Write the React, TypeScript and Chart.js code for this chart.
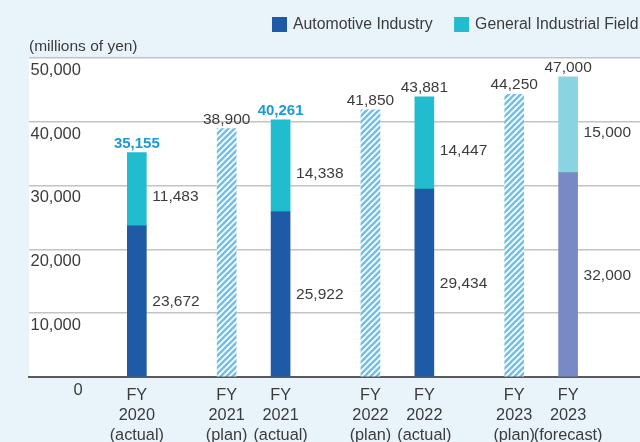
import React, { useEffect, useRef } from 'react';
import { Chart, registerables } from 'chart.js';

Chart.register(...registerables);

// ---------------- data ----------------
const categories: string[][] = [
  ['FY', '2020', '(actual)'],
  ['FY', '2021', '(plan)'],
  ['FY', '2021', '(actual)'],
  ['FY', '2022', '(plan)'],
  ['FY', '2022', '(actual)'],
  ['FY', '2023', '(plan)'],
  ['FY', '2023', '(forecast)'],
];
const kinds = ['actual', 'plan', 'actual', 'plan', 'actual', 'plan', 'forecast'];
const automotive = [23672, null, 25922, null, 29434, null, 32000];
const generalIndustrial = [11483, null, 14338, null, 14447, null, 15000];
const planTotals = [null, 38900, null, 41850, null, 44250, null];
const totals = [35155, 38900, 40261, 41850, 43881, 44250, 47000];
const highlighted = [true, false, true, false, false, false, false];
const legendLabels = ['Automotive Industry', 'General Industrial Field'];
const unitLabel = '(millions of yen)';
const yMax = 50000;
const yStep = 10000;

// ---------------- layout (category slots incl. spacer slots) ----------------
const SLOT_COUNT = 35;
const SLOTS = [6, 11, 14, 19, 22, 27, 30];

const FONT = '"Liberation Sans", Arial, Helvetica, sans-serif';
const C_AUTO = '#1f5aa6';
const C_GEN = '#21bccd';
const C_AUTO_FC = '#7889c5';
const C_GEN_FC = '#8ad3e0';
const C_HATCH = '#6ec1eb';
const C_TEXT = '#3c3c3c';
const C_HIGHLIGHT = '#1b9ad6';
const C_BG = '#e8f3fa';

const slotLabels: (string | string[])[] = Array.from({ length: SLOT_COUNT }, () => '');
SLOTS.forEach((s, i) => { slotLabels[s] = categories[i]; });
const catOfSlot: number[] = Array.from({ length: SLOT_COUNT }, () => -1);
SLOTS.forEach((s, i) => { catOfSlot[s] = i; });

function expand(arr: (number | null)[]) {
  const out: (number | null)[] = Array.from({ length: SLOT_COUNT }, () => null);
  SLOTS.forEach((s, i) => { out[s] = arr[i]; });
  return out;
}

function makeHatch(): CanvasPattern | string {
  const c = document.createElement('canvas');
  c.width = 6; c.height = 6;
  const g = c.getContext('2d');
  if (!g) return C_HATCH;
  g.fillStyle = C_HATCH;
  g.fillRect(0, 0, 6, 6);
  g.strokeStyle = '#ffffff';
  g.lineWidth = 1.7;
  g.beginPath();
  g.moveTo(-1, 7); g.lineTo(7, -1);
  g.moveTo(-2, 2); g.lineTo(2, -2);
  g.moveTo(4, 8); g.lineTo(8, 4);
  g.stroke();
  return g.createPattern(c, 'repeat') || C_HATCH;
}

const fmt = (v: number) => v.toLocaleString('en-US');

export default function App() {
  const ref = useRef<HTMLCanvasElement | null>(null);

  useEffect(() => {
    if (!ref.current) return;
    const hatch = makeHatch();

    const bgPlugin = {
      id: 'bg',
      beforeDraw(chart: any) {
        const { ctx, chartArea: a } = chart;
        ctx.save();
        ctx.fillStyle = C_BG;
        ctx.fillRect(0, 0, chart.width, chart.height);
        ctx.fillStyle = '#ffffff';
        ctx.fillRect(a.left, a.top, a.right - a.left, a.bottom - a.top);
        ctx.restore();
      },
    };

    const labelPlugin = {
      id: 'labels',
      afterDatasetsDraw(chart: any) {
        const { ctx } = chart;
        const mAuto = chart.getDatasetMeta(0);
        const mGen = chart.getDatasetMeta(1);
        const mPlan = chart.getDatasetMeta(2);
        ctx.save();
        SLOTS.forEach((s, i) => {
          const kind = kinds[i];
          const topEl = kind === 'plan' ? mPlan.data[s] : mGen.data[s];
          ctx.textAlign = 'center';
          ctx.textBaseline = 'alphabetic';
          if (highlighted[i]) {
            ctx.font = `bold 15px ${FONT}`;
            ctx.fillStyle = C_HIGHLIGHT;
          } else {
            ctx.font = `15.5px ${FONT}`;
            ctx.fillStyle = C_TEXT;
          }
          ctx.fillText(fmt(totals[i]), topEl.x, topEl.y - 5);
          if (kind !== 'plan') {
            ctx.font = `15.5px ${FONT}`;
            ctx.fillStyle = C_TEXT;
            ctx.textAlign = 'left';
            ctx.textBaseline = 'middle';
            const g = mGen.data[s];
            const a = mAuto.data[s];
            const gx = g.x + g.width / 2 + 6;
            ctx.fillText(fmt(generalIndustrial[i] as number), gx, (g.y + g.base) / 2 + 8);
            ctx.fillText(fmt(automotive[i] as number), gx, (a.y + a.base) / 2 + 1);
          }
        });
        ctx.restore();
      },
      afterDraw(chart: any) {
        const { ctx, chartArea: a } = chart;
        const y = chart.scales.y;
        ctx.save();
        // zero label
        ctx.font = `16.5px ${FONT}`;
        ctx.fillStyle = C_TEXT;
        ctx.textAlign = 'center';
        ctx.textBaseline = 'middle';
        ctx.fillText('0', a.left + 49, y.getPixelForValue(0) + 13);
        // unit label
        ctx.font = `15.5px ${FONT}`;
        ctx.textAlign = 'left';
        ctx.textBaseline = 'alphabetic';
        ctx.fillText(unitLabel, a.left, a.top - 7);
        // legend
        ctx.font = `15.8px ${FONT}`;
        ctx.textBaseline = 'middle';
        const colors = [C_AUTO, C_GEN];
        let x = 272;
        legendLabels.forEach((t, i) => {
          ctx.fillStyle = colors[i];
          ctx.fillRect(x, 17, 15, 15);
          ctx.fillStyle = C_TEXT;
          ctx.fillText(t, x + 21, 25);
          x += 21 + ctx.measureText(t).width + 21.5;
        });
        ctx.restore();
      },
    };

    const chart = new Chart(ref.current, {
      type: 'bar',
      data: {
        labels: slotLabels as any,
        datasets: [
          {
            label: legendLabels[0],
            data: expand(automotive),
            backgroundColor: (c: any) => (kinds[catOfSlot[c.dataIndex]] === 'forecast' ? C_AUTO_FC : C_AUTO),
            barThickness: 19,
            stack: 's',
          },
          {
            label: legendLabels[1],
            data: expand(generalIndustrial),
            backgroundColor: (c: any) => (kinds[catOfSlot[c.dataIndex]] === 'forecast' ? C_GEN_FC : C_GEN),
            barThickness: 19,
            stack: 's',
          },
          {
            label: 'Plan',
            data: expand(planTotals),
            backgroundColor: hatch as any,
            barThickness: 19,
            stack: 's',
          },
        ],
      },
      options: {
        responsive: false,
        animation: false,
        devicePixelRatio: 1,
        events: [],
        layout: { padding: { left: 29, top: 57.7, right: 0, bottom: 0 } },
        plugins: { legend: { display: false }, tooltip: { enabled: false } },
        scales: {
          x: {
            type: 'category',
            stacked: true,
            offset: false,
            grid: { display: false, drawTicks: false },
            border: { display: true, color: '#5a5a5a', width: 2 },
            ticks: {
              autoSkip: false,
              maxRotation: 0,
              minRotation: 0,
              padding: 8,
              color: C_TEXT,
              font: { family: FONT, size: 16.3, lineHeight: 1.23 },
            },
            afterFit: (s: any) => { s.height = 65; s.paddingLeft = 0; s.paddingRight = 0; },
          },
          y: {
            stacked: true,
            min: 0,
            max: yMax,
            grid: { color: '#c4c4c4', lineWidth: 1.5, drawTicks: false },
            border: { display: false },
            ticks: {
              stepSize: yStep,
              mirror: true,
              padding: 1.5,
              labelOffset: 12.5,
              color: C_TEXT,
              font: { family: FONT, size: 16.5 },
              callback: (v: any) => (Number(v) === 0 ? '' : fmt(Number(v))),
            },
            afterFit: (s: any) => { s.width = 0; s.paddingTop = 0; s.paddingBottom = 0; },
          },
        },
      } as any,
      plugins: [bgPlugin, labelPlugin],
    });
    return () => chart.destroy();
  }, []);

  return (
    <div style={{ position: 'absolute', left: 0, top: 0, width: 640, height: 442, background: C_BG }}>
      <canvas ref={ref} width={640} height={442} style={{ display: 'block' }} />
    </div>
  );
}
